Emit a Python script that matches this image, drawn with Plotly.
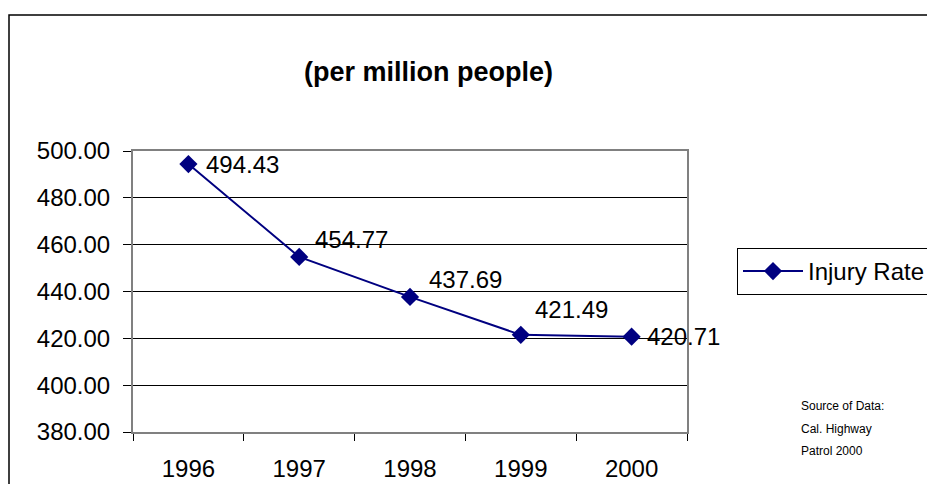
import plotly.graph_objects as go

years = ['1996', '1997', '1998', '1999', '2000']
injury_rate = [494.43, 454.77, 437.69, 421.49, 420.71]
y_ticks = [380, 400, 420, 440, 460, 480, 500]
source_lines = ['Source of Data:', 'Cal. Highway', 'Patrol 2000']

W, H = 927, 484
L, R, T, B = 133, 687, 151, 432

def px(x):
    return (x - L) / (R - L)

def py(y):
    return (B - y) / (B - T)

FONT = 'Arial, Liberation Sans, sans-serif'

trace = go.Scatter(
    x=years,
    y=injury_rate,
    mode='lines+markers',
    name='Injury Rate',
    line=dict(color='#000080', width=2),
    marker=dict(symbol='diamond', size=14, color='#000080'),
    cliponaxis=False,
)

fig = go.Figure(data=[trace])

# offsets (px) of the value labels from their points, as Excel placed them
label_dx = [16, 14, 17, 12, 13]
label_dy = [0, 17, 17, 25, 0]

annotations = [
    dict(text='<b>(per million people)</b>', x=px(428), y=py(72), xref='paper', yref='paper',
         showarrow=False, xanchor='center', yanchor='middle',
         font=dict(size=27, color='black', family=FONT)),
]
for i, (v, dx, dy) in enumerate(zip(injury_rate, label_dx, label_dy)):
    annotations.append(dict(text=f'{v:.2f}', x=i, y=v, xref='x', yref='y',
                            showarrow=False, xanchor='left', yanchor='middle',
                            xshift=dx, yshift=dy,
                            font=dict(size=24, color='black', family=FONT)))
for i, line in enumerate(source_lines):
    annotations.append(dict(text=line, x=px(799), y=py(406 + 22.5 * i), xref='paper', yref='paper',
                            showarrow=False, xanchor='left', yanchor='middle',
                            font=dict(size=12, color='black', family=FONT)))

fig.update_layout(
    width=W, height=H,
    margin=dict(l=L, r=W - R, t=T, b=H - B),
    paper_bgcolor='white',
    plot_bgcolor='white',
    font=dict(family=FONT, color='black'),
    showlegend=True,
    legend=dict(xref='container', yref='container', x=737 / W, y=1 - 248 / H,
                xanchor='left', yanchor='top',
                bordercolor='black', borderwidth=1, bgcolor='white',
                itemwidth=60,
                font=dict(size=24, color='black', family=FONT)),
    xaxis=dict(type='category', range=[-0.5, 4.5], showgrid=False, automargin=False,
               showline=True, linecolor='#808080', linewidth=2, mirror=True,
               ticks='outside', ticklen=7, tickcolor='black', tickson='boundaries',
               ticklabelstandoff=14,
               tickfont=dict(size=24, color='black', family=FONT)),
    yaxis=dict(range=[380, 500], tickvals=y_ticks, tickformat='.2f', automargin=False,
               showgrid=True, gridcolor='black', gridwidth=1,
               showline=True, linecolor='#808080', linewidth=2, mirror=True,
               ticks='outside', ticklen=8, tickcolor='black',
               ticklabelstandoff=8, zeroline=False,
               tickfont=dict(size=24, color='black', family=FONT)),
    annotations=annotations,
    shapes=[dict(type='rect', xref='paper', yref='paper',
                 x0=px(9), x1=px(1200), y0=py(700), y1=py(15),
                 line=dict(color='black', width=1.5), layer='below')],
)

# drop the default 8px page margin so the figure sits at the window origin
fig.write_html("out.html", config={'displayModeBar': False},
               post_script="document.body.style.margin='0';")
